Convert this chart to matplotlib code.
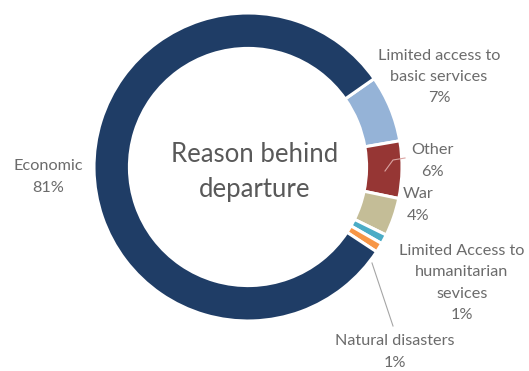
import matplotlib.pyplot as plt

# Reasons behind departure (share of respondents, %)
reasons = ["Limited access to\nbasic services", "Other", "War",
           "Limited Access to\nhumanitarian\nsevices", "Natural disasters", "Economic"]
shares = [7, 6, 4, 1, 1, 81]
colors = ["#95b3d7", "#963634", "#c4bd97", "#4bacc6", "#f79646", "#1f3d66"]

W, H = 529, 371
CX, CY, R = 248, 167, 154  # pie centre and radius in pixels


def px(x, y):
    # pixel position (from top-left) -> data coordinates of the pie axes
    return (x - CX) / R, (CY - y) / R


fig = plt.figure(figsize=(W / 100, H / 100), dpi=100)
ax = fig.add_axes([0, 0, 1, 1])
ax.pie(shares, colors=colors, startangle=35, counterclock=False, radius=1,
       wedgeprops=dict(width=0.23, edgecolor="white", linewidth=2.2))
ax.set_xlim(-CX / R, (W - CX) / R)
ax.set_ylim(-(H - CY) / R, CY / R)
ax.axis("off")

txt = dict(family="Lato", fontsize=11.7, color="#6b6b6b", ha="center", va="center",
           linespacing=1.65)
label_px = [(439, 77), (432, 161), (418, 205), (462, 283), (395, 352), (48, 177)]
for name, val, (x, y) in zip(reasons, shares, label_px):
    ax.text(*px(x, y), f"{name}\n{val}%", **txt)

# leader lines
ox, oy = zip(px(405, 158), px(393, 160), px(385, 171))
ax.plot(ox, oy, color="#d9a3a1", lw=0.8)
nx, ny = zip(px(372, 263), px(393, 326))
ax.plot(nx, ny, color="#a6a6a6", lw=0.8)

ax.text(*px(255, 172), "Reason behind\ndeparture", family="Lato", fontsize=18.5,
        color="#595959", ha="center", va="center", linespacing=1.45)

fig.savefig("out.png", dpi=100)
